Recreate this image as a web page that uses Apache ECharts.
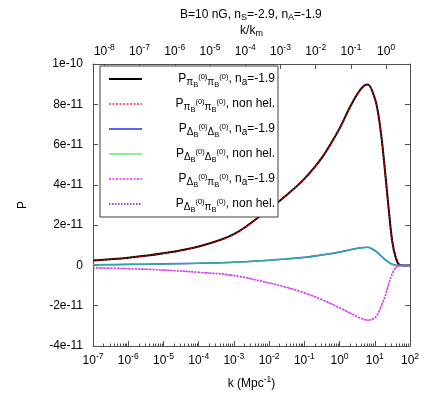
<!DOCTYPE html>
<html>
<head>
<meta charset="utf-8">
<script src="https://cdn.jsdelivr.net/npm/echarts@6/dist/echarts.min.js"></script>
<style>
  html, body { margin: 0; padding: 0; background: #fff; }
  #chart { width: 429px; height: 401px; }
</style>
</head>
<body>
<div id="chart"></div>
<script>
// k in Mpc^-1
const kValues = [1e-7, 1e-6, 1e-5, 1e-4, 1e-3, 1e-2, 0.0316, 0.1, 0.316, 1, 2, 4, 6.3,
  10, 12.6, 15.8, 20, 25, 31.6, 40, 50, 63, 100];
const kM = 21; // k_m, offset of the top axis

const pPiPiHel = [2.4e-12, 3.8e-12, 6.0e-12, 9.4e-12, 1.55e-11, 2.8e-11, 3.5e-11, 4.3e-11, 5.35e-11,
  6.8e-11, 7.88e-11, 8.75e-11, 8.98e-11, 8.3e-11, 7.5e-11, 6.23e-11, 4.5e-11, 2.75e-11, 1.15e-11,
  3.5e-12, 3e-13, 0, 0];
const pPiPiNonHel = [2.4e-12, 3.8e-12, 6.0e-12, 9.4e-12, 1.55e-11, 2.8e-11, 3.5e-11, 4.3e-11, 5.35e-11,
  6.8e-11, 7.88e-11, 8.75e-11, 8.98e-11, 8.3e-11, 7.5e-11, 6.23e-11, 4.5e-11, 2.75e-11, 1.15e-11,
  3.5e-12, 3e-13, 0, 0];
const pDeltaDeltaHel = [3e-13, 5e-13, 7.5e-13, 1.1e-12, 1.6e-12, 2.6e-12, 3.2e-12, 4.0e-12, 5.2e-12,
  6.6e-12, 7.8e-12, 8.7e-12, 9.0e-12, 7.4e-12, 6.0e-12, 4.4e-12, 2.8e-12, 1.5e-12, 5.5e-13,
  1e-13, 0, 0, 0];
const pDeltaDeltaNonHel = [3e-13, 5e-13, 7.5e-13, 1.1e-12, 1.6e-12, 2.6e-12, 3.2e-12, 4.0e-12, 5.2e-12,
  6.6e-12, 7.8e-12, 8.7e-12, 9.0e-12, 7.4e-12, 6.0e-12, 4.4e-12, 2.8e-12, 1.5e-12, 5.5e-13,
  1e-13, 0, 0, 0];
const pDeltaPiHel = [-1.2e-12, -1.6e-12, -2.3e-12, -3.4e-12, -5.0e-12, -8.7e-12, -1.09e-11, -1.36e-11,
  -1.7e-11, -2.1e-11, -2.37e-11, -2.62e-11, -2.72e-11, -2.6e-11, -2.35e-11, -1.95e-11, -1.5e-11,
  -9e-12, -4e-12, -1e-12, -1e-13, 0, 0];
const pDeltaPiNonHel = [-1.2e-12, -1.6e-12, -2.3e-12, -3.4e-12, -5.0e-12, -8.7e-12, -1.09e-11, -1.36e-11,
  -1.7e-11, -2.1e-11, -2.37e-11, -2.62e-11, -2.72e-11, -2.6e-11, -2.35e-11, -1.95e-11, -1.5e-11,
  -9e-12, -4e-12, -1e-12, -1e-13, 0, 0];

const yTicks = { min: -4e-11, max: 1e-10, step: 2e-11 };

const legendLabels = {
  pp_hel: '{m|P}{s|π}{ss|B}{su|(0)}{s|π}{ss|B}{su|(0)}{m|, n}{s|a}{m|=-1.9}',
  pp_non: '{m|P}{s|π}{ss|B}{su|(0)}{s|π}{ss|B}{su|(0)}{m|, non hel.}',
  dd_hel: '{m|P}{s|Δ}{ss|B}{su|(0)}{s|Δ}{ss|B}{su|(0)}{m|, n}{s|a}{m|=-1.9}',
  dd_non: '{m|P}{s|Δ}{ss|B}{su|(0)}{s|Δ}{ss|B}{su|(0)}{m|, non hel.}',
  dp_hel: '{m|P}{s|Δ}{ss|B}{su|(0)}{s|π}{ss|B}{su|(0)}{m|, n}{s|a}{m|=-1.9}',
  dp_non: '{m|P}{s|Δ}{ss|B}{su|(0)}{s|π}{ss|B}{su|(0)}{m|, non hel.}'
};

const FONT = 'Liberation Sans, Arial, sans-serif';
const AXIS_COLOR = '#505050';

const pairs = ys => kValues.map((k, i) => [k, ys[i]]);

function powLabel(v) {
  const e = Math.log10(v);
  const r = Math.round(e);
  if (Math.abs(e - r) > 1e-6) return '';
  return '{b|10}{s|' + r + '}';
}
function yLabel(v) {
  const n = Math.round(v / 1e-11);
  if (n === 0) return '0';
  if (n === 10) return '1e-10';
  return n + 'e-11';
}

const powRich = {
  b: { fontSize: 12, fontFamily: FONT, color: '#000', lineHeight: 14 },
  s: { fontSize: 8.5, fontFamily: FONT, color: '#000', lineHeight: 14, padding: [0, 0, 9, 0] }
};
const legendRich = {
  m: { fontSize: 12, fontFamily: FONT, color: '#000', lineHeight: 14, align: 'right' },
  s: { fontSize: 10, fontFamily: FONT, color: '#000', lineHeight: 14, align: 'right', padding: [6, 0, 0, 0] },
  ss: { fontSize: 7.5, fontFamily: FONT, color: '#000', lineHeight: 14, align: 'right', padding: [12, 0, 0, 0] },
  su: { fontSize: 7.5, fontFamily: FONT, color: '#000', lineHeight: 14, align: 'right', padding: [0, 0, 4, 0] }
};

function lineSeries(name, data, color, width, type, z) {
  return {
    name: name,
    type: 'line',
    data: pairs(data),
    symbol: 'none',
    smooth: 0.35,
    z: z,
    lineStyle: { color: color, width: width, type: type },
    itemStyle: { color: color }
  };
}

const noMark = { color: 'rgba(0,0,0,0)', borderWidth: 0, opacity: 0 };

const chart = echarts.init(document.getElementById('chart'));
chart.setOption({
  animation: false,
  backgroundColor: '#fff',
  title: {
    text: '{t|B=10 nG, n}{u|S}{t|=-2.9, n}{u|A}{t|=-1.9}',
    left: 175,
    top: 3,
    textStyle: {
      fontWeight: 'normal',
      rich: {
        t: { fontSize: 12, fontFamily: FONT, color: '#000', lineHeight: 14, fontWeight: 'normal' },
        u: { fontSize: 9, fontFamily: FONT, color: '#000', lineHeight: 14, padding: [6, 0, 0, 0], fontWeight: 'normal' }
      }
    }
  },
  grid: { left: 93, right: 19, top: 64, bottom: 55 },
  legend: {
    orient: 'vertical',
    left: 100,
    top: 66,
    padding: [3, 3, 3, 8],
    itemGap: 5,
    itemWidth: 33,
    itemHeight: 14,
    borderColor: '#404040',
    borderWidth: 1,
    backgroundColor: '#fff',
    itemStyle: noMark,
    formatter: name => legendLabels[name],
    textStyle: { width: 128, rich: legendRich },
    data: [
      { name: 'pp_hel', itemStyle: noMark },
      { name: 'pp_non', itemStyle: noMark, lineStyle: { color: '#ff6060' } },
      { name: 'dd_hel', itemStyle: noMark, lineStyle: { color: '#6060ff' } },
      { name: 'dd_non', itemStyle: noMark, lineStyle: { color: '#90f090' } },
      { name: 'dp_hel', itemStyle: noMark, lineStyle: { color: '#ff50ff' } },
      { name: 'dp_non', itemStyle: noMark, lineStyle: { color: '#8050c8' } }
    ]
  },
  xAxis: [
    {
      type: 'log',
      position: 'bottom',
      min: 1e-7,
      max: 1e2,
      interval: 1,
      name: 'k (Mpc{p|-1})',
      nameLocation: 'middle',
      nameGap: 24,
      nameTextStyle: {
        rich: {
          p: { fontSize: 8.5, fontFamily: FONT, color: '#000', lineHeight: 14, padding: [0, 0, 9, 0] }
        },
        fontSize: 12, fontFamily: FONT, color: '#000', lineHeight: 14
      },
      axisLine: { show: true, onZero: false, lineStyle: { color: AXIS_COLOR, width: 1 } },
      axisTick: { show: true, inside: true, length: 5, lineStyle: { color: AXIS_COLOR } },
      minorTick: { show: true, splitNumber: 9, length: 2.5, lineStyle: { color: AXIS_COLOR } },
      splitLine: { show: false },
      axisLabel: { formatter: powLabel, rich: powRich, margin: 8 }
    },
    {
      type: 'log',
      position: 'top',
      min: 1e-7 / kM,
      max: 1e2 / kM,
      splitNumber: 9,
      name: 'k/k{u|m}',
      nameLocation: 'middle',
      nameGap: 14,
      nameTextStyle: {
        fontSize: 12, fontFamily: FONT, color: '#000', lineHeight: 14,
        rich: { u: { fontSize: 9, fontFamily: FONT, color: '#000', lineHeight: 14, padding: [6, 0, 0, 0] } }
      },
      axisLine: { show: true, onZero: false, lineStyle: { color: AXIS_COLOR, width: 1 } },
      axisTick: { show: true, inside: true, length: 5, lineStyle: { color: AXIS_COLOR } },
      splitLine: { show: false },
      axisLabel: { formatter: powLabel, rich: powRich, margin: 5, showMinLabel: false, showMaxLabel: false }
    }
  ],
  yAxis: [
    {
      type: 'value',
      position: 'left',
      min: yTicks.min,
      max: yTicks.max,
      interval: yTicks.step,
      name: 'P',
      nameLocation: 'middle',
      nameGap: 64,
      nameTextStyle: { fontSize: 12, fontFamily: FONT, color: '#000' },
      axisLine: { show: true, onZero: false, lineStyle: { color: AXIS_COLOR, width: 1 } },
      axisTick: { show: true, inside: true, length: 5, lineStyle: { color: AXIS_COLOR } },
      splitLine: { show: false },
      axisLabel: { formatter: yLabel, fontSize: 12, fontFamily: FONT, color: '#000', margin: 10 }
    },
    {
      type: 'value',
      position: 'right',
      min: yTicks.min,
      max: yTicks.max,
      interval: yTicks.step,
      axisLine: { show: true, onZero: false, lineStyle: { color: AXIS_COLOR, width: 1 } },
      axisTick: { show: true, inside: true, length: 5, lineStyle: { color: AXIS_COLOR } },
      splitLine: { show: false },
      axisLabel: { show: false }
    }
  ],
  series: [
    lineSeries('pp_hel', pPiPiHel, '#000000', 2, 'solid', 2),
    lineSeries('pp_non', pPiPiNonHel, '#e00000', 1.2, [2, 1.5], 3),
    lineSeries('dd_hel', pDeltaDeltaHel, '#4060e0', 1.6, 'solid', 2),
    lineSeries('dd_non', pDeltaDeltaNonHel, '#30a8a0', 1.4, 'solid', 3),
    lineSeries('dp_hel', pDeltaPiHel, '#ff40ff', 1.6, [2, 1.5], 2),
    lineSeries('dp_non', pDeltaPiNonHel, '#b040e0', 1.3, [1.5, 1.5], 3)
  ]
});
</script>
</body>
</html>
